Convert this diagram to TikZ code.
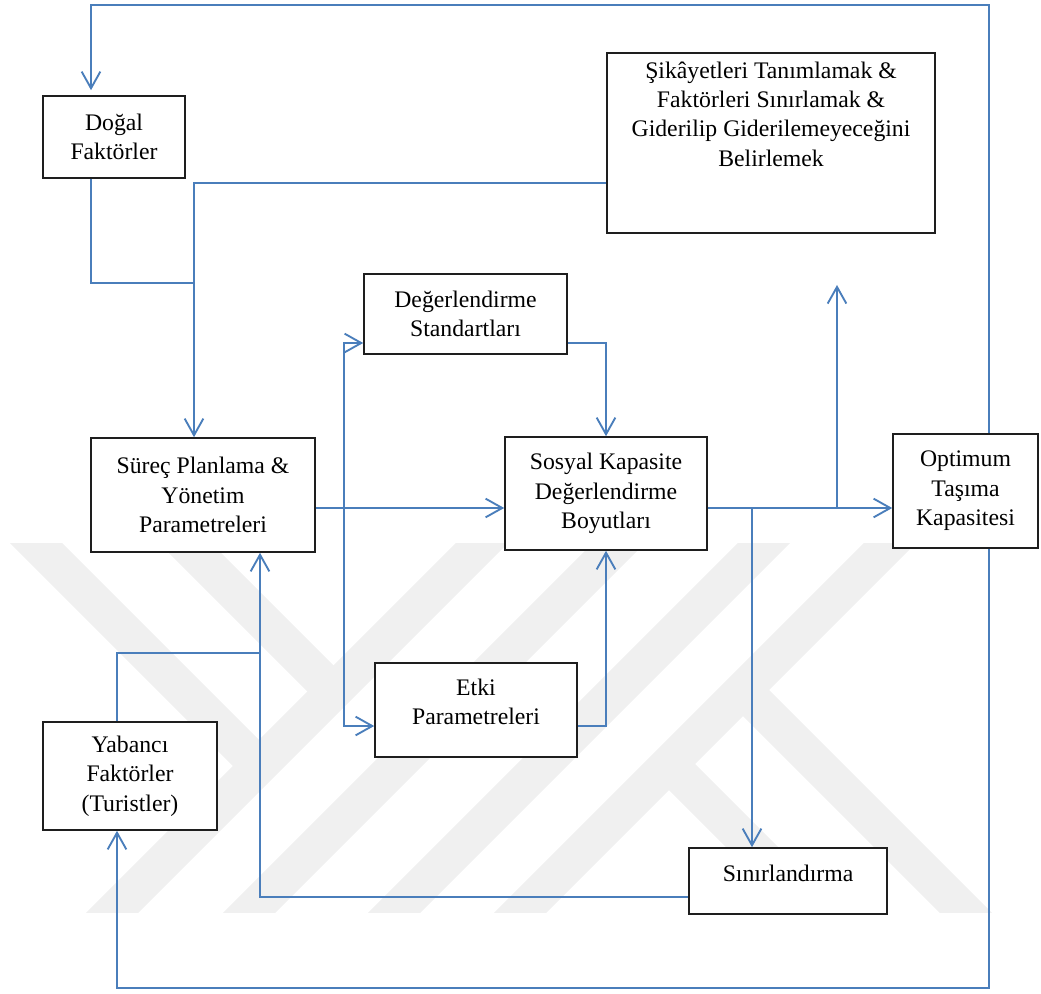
\documentclass[tikz,border=0pt]{standalone}
\usepackage{fontspec}
\setmainfont{Liberation Serif}
\usetikzlibrary{arrows.meta}
\definecolor{linkblue}{RGB}{74,126,187}
\definecolor{markgray}{RGB}{240,240,240}
\definecolor{boxline}{RGB}{30,30,30}

\begin{document}
\begin{tikzpicture}[x=0.75pt,y=-0.75pt,
  labelfont/.style={font=\fontsize{17.8}{22}\selectfont},
  box/.style={draw=boxline, line width=1.2pt, fill=white, inner sep=0pt, align=center, labelfont},
  txt/.style={inner sep=0pt, align=center, labelfont},
  conn/.style={draw=linkblue, line width=1.4pt},
  arr/.style={conn, -{Straight Barb[length=12.5pt,width=14pt]}},
  band/.style={draw=markgray, line width=27.75pt}]

\useasboundingbox (0,0) rectangle (1041,994);

% faint background emblem made of diagonal bars
\begin{scope}
  \clip (0,543) rectangle (1041,912);
  \draw[band] (25,1000) -- (525,500);
  \draw[band] (162,1000) -- (662,500);
  \draw[band] (307,1000) -- (807,500);
  \draw[band] (433,1000) -- (933,500);
  \draw[band] (0,507) -- (259,766);
  \draw[band] (150,508) -- (333,691);
  \draw[band] (743,690) -- (1010,957);
  \draw[band] (669,764) -- (900,995);
\end{scope}

% boxes
\node[box, minimum width={142*0.75pt}, minimum height={82*0.75pt}] (dogal) at (114,137) {Doğal\\Faktörler};
\node[box, minimum width={328*0.75pt}, minimum height={180*0.75pt}] (sikayet) at (771,143) {};
\node[txt] (sikayetT) at (771,114) {Şikâyetleri Tanımlamak \&\\Faktörleri Sınırlamak \&\\Giderilip Giderilemeyeceğini\\Belirlemek};
\node[box, minimum width={203*0.75pt}, minimum height={80*0.75pt}] (standart) at (465.5,314) {Değerlendirme\\Standartları};
\node[box, minimum width={224*0.75pt}, minimum height={114*0.75pt}] (surec) at (203,495) {Süreç Planlama \&\\Yönetim\\Parametreleri};
\node[box, minimum width={202*0.75pt}, minimum height={113*0.75pt}] (sosyal) at (606,493.5) {Sosyal Kapasite\\Değerlendirme\\Boyutları};
\node[box, minimum width={145*0.75pt}, minimum height={114*0.75pt}] (optimum) at (965.5,491) {Optimum\\Taşıma\\Kapasitesi};
\node[box, minimum width={202*0.75pt}, minimum height={94*0.75pt}] (etki) at (476,710) {};
\node[txt] (etkiT) at (476,702) {Etki\\Parametreleri};
\node[box, minimum width={174*0.75pt}, minimum height={108*0.75pt}] (yabanci) at (130,776) {Yabancı\\Faktörler\\(Turistler)};
\node[box, minimum width={198*0.75pt}, minimum height={66*0.75pt}] (sinir) at (788,881) {};
\node[txt] (sinirT) at (788,873) {Sınırlandırma};

% routing points
\coordinate (topR) at (989,5);
\coordinate (topL) at (91,5);
\coordinate (dogJ) at (91,283);
\coordinate (merge) at (194,283);
\coordinate (kS) at (194,183);
\coordinate (mid) at (344,508);
\coordinate (ls) at (344,343);
\coordinate (le) at (344,726);
\coordinate (rs) at (606,343);
\coordinate (re) at (606,726);
\coordinate (mid2) at (752,508);
\coordinate (upEnd) at (837,285);
\coordinate (bl) at (260,897);
\coordinate (yt) at (117,653);
\coordinate (bR) at (989,988);
\coordinate (bL) at (117,988);

% connectors
\draw[arr, shorten >=3.75pt] (topR |- optimum.north) -- (topR) -- (topL) -- (topL |- dogal.north);
\draw[conn] (dogJ |- dogal.south) -- (dogJ) -- (merge);
\draw[arr] (kS -| sikayet.west) -- (kS) -- (kS |- surec.north);
\draw[arr] (mid -| surec.east) -- (mid -| sosyal.west);
\draw[arr] (mid) -- (ls) -- (ls -| standart.west);
\draw[arr] (mid) -- (le) -- (le -| etki.west);
\draw[arr] (rs -| standart.east) -- (rs) -- (rs |- sosyal.north);
\draw[arr] (re -| etki.east) -- (re) -- (re |- sosyal.south);
\draw[arr] (mid2 -| sosyal.east) -- (mid2 -| optimum.west);
\draw[arr] (upEnd |- mid2) -- (upEnd);
\draw[arr] (mid2) -- (mid2 |- sinir.north);
\draw[arr] (bl -| sinir.west) -- (bl) -- (bl |- surec.south);
\draw[conn] (yt |- yabanci.north) -- (yt) -- (yt -| bl);
\draw[arr] (bR |- optimum.south) -- (bR) -- (bL) -- (bL |- yabanci.south);
\end{tikzpicture}
\end{document}
